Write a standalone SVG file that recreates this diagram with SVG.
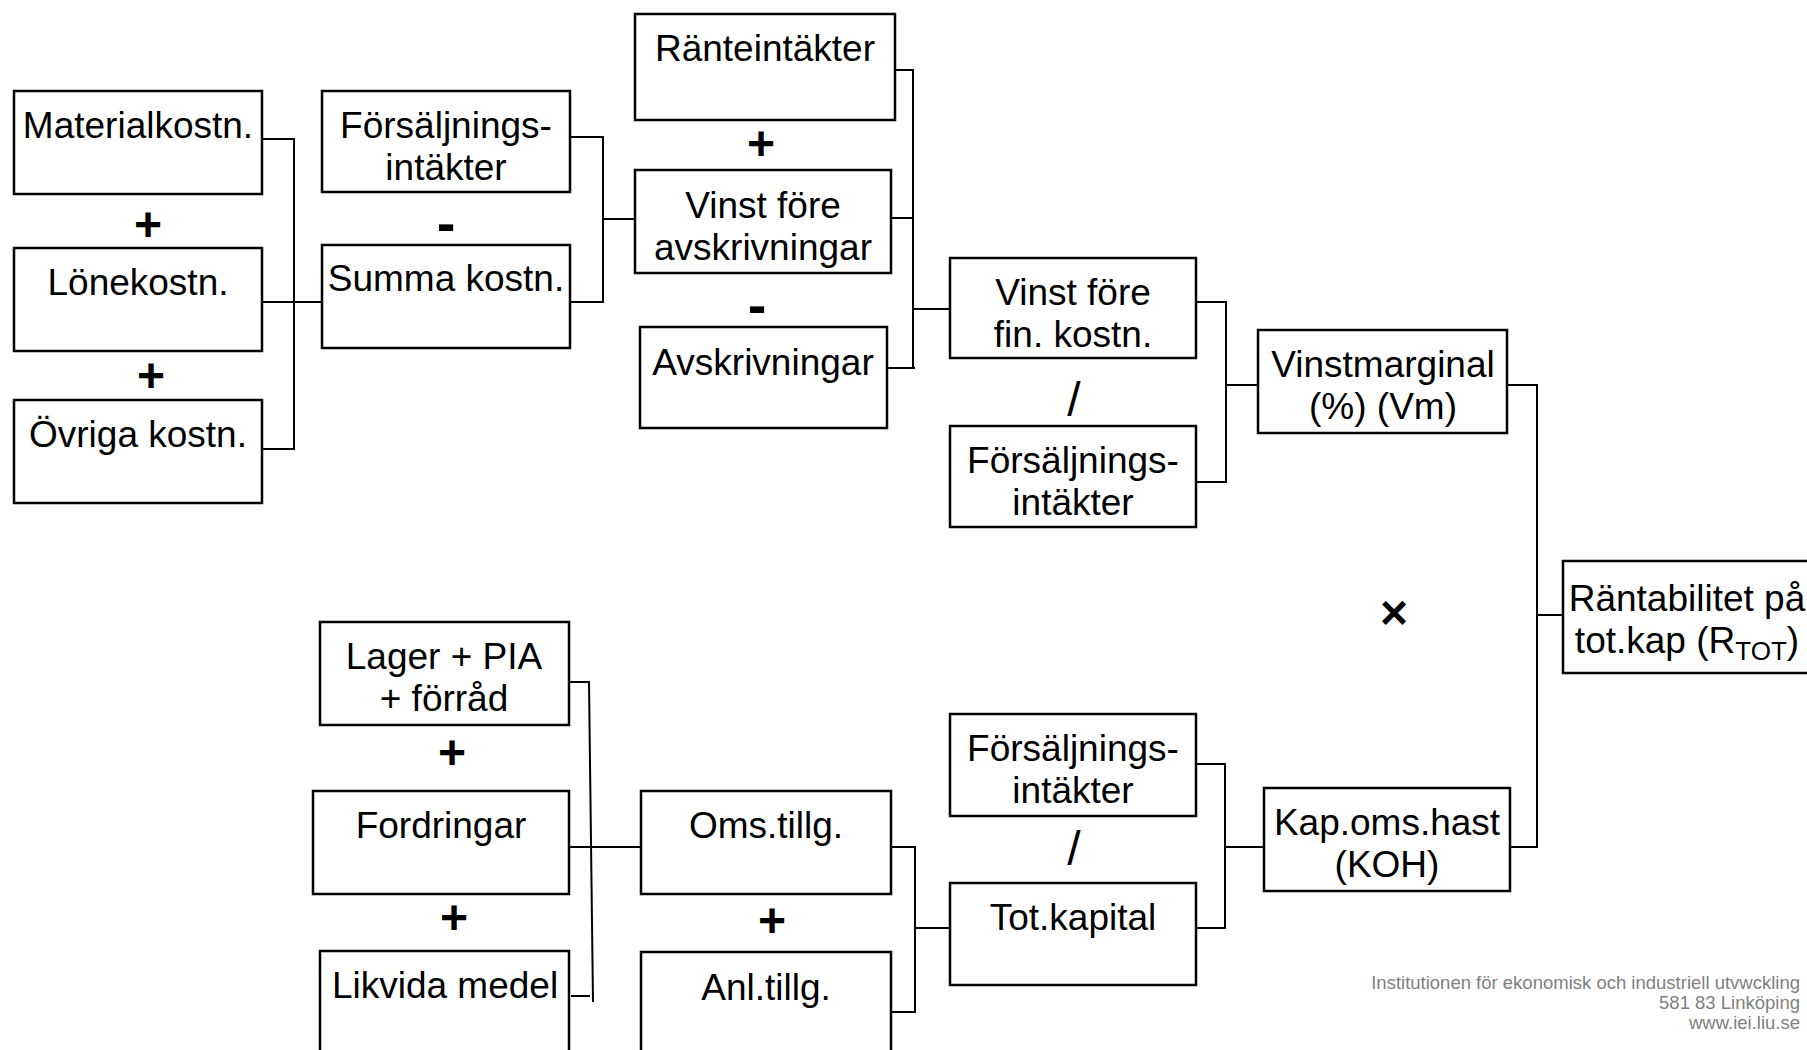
<svg xmlns="http://www.w3.org/2000/svg" width="1807" height="1050" viewBox="0 0 1807 1050">
<style>
.box{fill:#fff;stroke:#000;stroke-width:2.5}
.t{font-family:"Liberation Sans",Arial,sans-serif;font-size:37px;text-anchor:middle;fill:#000}
.op{font-family:"Liberation Sans",Arial,sans-serif;font-size:48px;font-weight:bold;text-anchor:middle;fill:#000}
.mi{font-family:"Liberation Sans",Arial,sans-serif;font-size:56px;font-weight:bold;text-anchor:middle;fill:#000}
.sl{font-family:"Liberation Sans",Arial,sans-serif;font-size:48px;text-anchor:middle;fill:#000}
.con{fill:none;stroke:#000;stroke-width:2}
.ft{font-family:"Liberation Sans",Arial,sans-serif;font-size:18.5px;text-anchor:end;fill:#7f7f7f}
</style>
<rect width="1807" height="1050" fill="#fff"/>
<g id="connectors">
<path class="con" d="M262,139 H294 V449 H262 M262,302 H322"/>
<path class="con" d="M570,137 H603 V302 H570 M603,219 H635"/>
<path class="con" d="M895,70 H913 V368 M891,218 H913 M887,368 H915 M913,309 H950"/>
<path class="con" d="M1196,302 H1226 V482 H1196 M1226,385 H1258"/>
<path class="con" d="M1507,385 H1537 V847 H1510 M1537,615 H1563"/>
<path class="con" d="M1196,764 H1225 V928 H1196 M1225,847 H1264"/>
<path class="con" d="M891,847 H915 V1012 H891 M915,928 H950"/>
<path class="con" d="M569,682 H589 L593,1002 M571,996 H590 M569,847 H641"/>
</g>
<g id="materialkostn"><rect class="box" x="14" y="91" width="248" height="103"/><text class="t" x="138" y="138">Materialkostn.</text></g>
<g id="lonekostn"><rect class="box" x="14" y="248" width="248" height="103"/><text class="t" x="138" y="295">Lönekostn.</text></g>
<g id="ovriga"><rect class="box" x="14" y="400" width="248" height="103"/><text class="t" x="138" y="447">Övriga kostn.</text></g>
<g id="forsaljning1"><rect class="box" x="322" y="91" width="248" height="101"/><text class="t" x="446" y="138">Försäljnings-</text><text class="t" x="446" y="180">intäkter</text></g>
<g id="summa"><rect class="box" x="322" y="245" width="248" height="103"/><text class="t" x="446" y="291">Summa kostn.</text></g>
<g id="ranteintakter"><rect class="box" x="635" y="14" width="260" height="106"/><text class="t" x="765" y="61">Ränteintäkter</text></g>
<g id="vinst-avskr"><rect class="box" x="635" y="170" width="256" height="103"/><text class="t" x="763" y="218">Vinst före</text><text class="t" x="763" y="260">avskrivningar</text></g>
<g id="avskrivningar"><rect class="box" x="640" y="327" width="247" height="101"/><text class="t" x="763" y="375">Avskrivningar</text></g>
<g id="vinst-fin"><rect class="box" x="950" y="258" width="246" height="100"/><text class="t" x="1073" y="305">Vinst före</text><text class="t" x="1073" y="347">fin. kostn.</text></g>
<g id="forsaljning2"><rect class="box" x="950" y="426" width="246" height="101"/><text class="t" x="1073" y="473">Försäljnings-</text><text class="t" x="1073" y="515">intäkter</text></g>
<g id="vinstmarginal"><rect class="box" x="1258" y="330" width="249" height="103"/><text class="t" x="1383" y="377">Vinstmarginal</text><text class="t" x="1383" y="419">(%) (Vm)</text></g>
<g id="rantabilitet"><rect class="box" x="1563" y="561" width="248" height="112"/><text class="t" x="1687" y="611">Räntabilitet på</text><text class="t" x="1687" y="653">tot.kap (R<tspan font-size="26" dy="7">TOT</tspan><tspan dy="-7">)</tspan></text></g>
<g id="lager"><rect class="box" x="320" y="622" width="249" height="103"/><text class="t" x="444" y="669">Lager + PIA</text><text class="t" x="444" y="711">+ förråd</text></g>
<g id="fordringar"><rect class="box" x="313" y="791" width="256" height="103"/><text class="t" x="441" y="838">Fordringar</text></g>
<g id="likvida"><rect class="box" x="320" y="951" width="249" height="120"/><text class="t" x="445" y="998">Likvida medel</text></g>
<g id="oms"><rect class="box" x="641" y="791" width="250" height="103"/><text class="t" x="766" y="838">Oms.tillg.</text></g>
<g id="anl"><rect class="box" x="641" y="952" width="250" height="120"/><text class="t" x="766" y="1000">Anl.tillg.</text></g>
<g id="forsaljning3"><rect class="box" x="950" y="714" width="246" height="102"/><text class="t" x="1073" y="761">Försäljnings-</text><text class="t" x="1073" y="803">intäkter</text></g>
<g id="totkapital"><rect class="box" x="950" y="883" width="246" height="102"/><text class="t" x="1073" y="930">Tot.kapital</text></g>
<g id="kapoms"><rect class="box" x="1264" y="788" width="246" height="103"/><text class="t" x="1387" y="835">Kap.oms.hast</text><text class="t" x="1387" y="877">(KOH)</text></g>
<g id="operators">
<text class="op" x="148" y="241">+</text>
<text class="op" x="151" y="392">+</text>
<text class="mi" x="446" y="242">-</text>
<text class="op" x="761" y="160">+</text>
<text class="mi" x="757" y="324">-</text>
<text class="sl" x="1074" y="416">/</text>
<text class="op" x="1394" y="629">×</text>
<text class="op" x="452" y="769">+</text>
<text class="op" x="454" y="934">+</text>
<text class="op" x="772" y="937">+</text>
<text class="sl" x="1074" y="865">/</text>
</g>
<g id="footer">
<text class="ft" x="1800" y="989">Institutionen för ekonomisk och industriell utvwckling</text>
<text class="ft" x="1800" y="1009">581 83 Linköping</text>
<text class="ft" x="1800" y="1029">www.iei.liu.se</text>
</g>
</svg>
